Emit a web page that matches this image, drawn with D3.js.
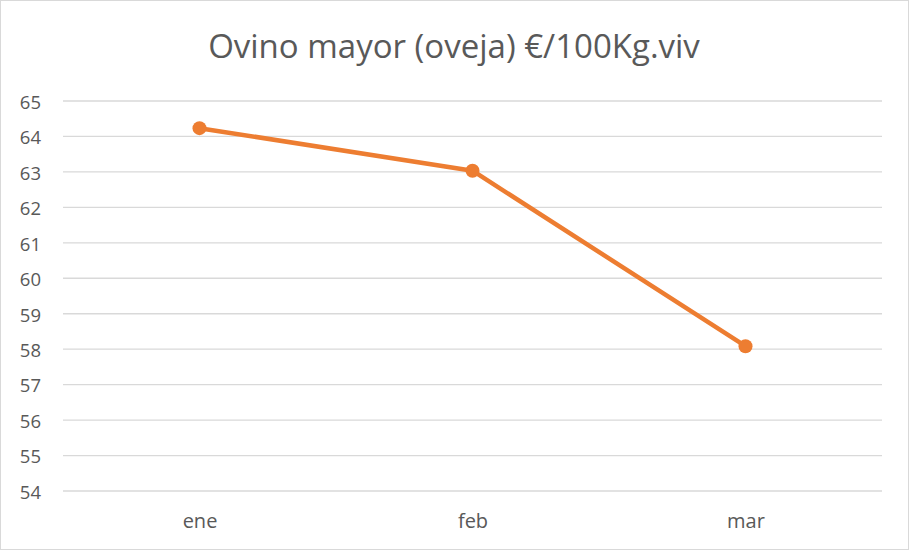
<!DOCTYPE html>
<html>
<head>
<meta charset="utf-8">
<script src="https://cdn.jsdelivr.net/npm/d3@7"></script>
<style>
  body { margin: 0; background: #fff; }
  svg { display: block; font-family: "Open Sans", "Noto Sans", sans-serif; }
</style>
</head>
<body>
<svg></svg>
<script>
// chart values
var months = ['ene', 'feb', 'mar'];
var prices = [64.22, 63.02, 58.07];
var yTicks = [54, 55, 56, 57, 58, 59, 60, 61, 62, 63, 64, 65];
var title = 'Ovino mayor (oveja) €/100Kg.viv';

var canvasWidth = 911,
  canvasHeight = 552,
  margin = { top: 100.5, right: 29, bottom: 61.5, left: 63 },
  width = canvasWidth - margin.left - margin.right,
  height = canvasHeight - margin.top - margin.bottom,
  grey = '#595959',
  orange = '#ED7D31';

var svg = d3.select('svg')
  .attr('width', canvasWidth)
  .attr('height', canvasHeight);

// outer frame
svg.append('rect')
  .attr('x', 0.5).attr('y', 0.5)
  .attr('width', canvasWidth - 3).attr('height', canvasHeight - 3)
  .attr('fill', '#fff')
  .attr('stroke', '#d9d9d9');

svg.append('text')
  .attr('x', 454)
  .attr('y', 58)
  .attr('text-anchor', 'middle')
  .style('font-size', '33px')
  .style('fill', grey)
  .text(title);

var g = svg.append('g')
  .attr('transform', 'translate(' + margin.left + ',' + margin.top + ')');

var xScale = d3.scalePoint()
  .domain(months)
  .range([0, width])
  .padding(0.5);

var yScale = d3.scaleLinear()
  .domain([54, 65])
  .range([height, 0]);

// gridlines + y labels
var yAxis = g.append('g')
  .call(d3.axisLeft(yScale).tickValues(yTicks).tickSize(-width).tickPadding(22));
yAxis.select('.domain').remove();
yAxis.selectAll('.tick line').attr('stroke', '#d9d9d9').attr('stroke-width', 1.3);
yAxis.selectAll('.tick text')
  .attr('dy', '0.42em')
  .style('font-size', '18.5px')
  .style('font-family', '"Open Sans", sans-serif')
  .attr('fill', grey);

// x labels
var xAxis = g.append('g')
  .attr('transform', 'translate(0,' + height + ')')
  .call(d3.axisBottom(xScale).tickSize(0).tickPadding(23));
xAxis.select('.domain').remove();
xAxis.selectAll('.tick text')
  .style('font-size', '20px')
  .style('font-family', '"Open Sans", sans-serif')
  .attr('fill', grey);

var line = d3.line()
  .x(function(d, i) { return xScale(months[i]); })
  .y(function(d) { return yScale(d); });

g.append('path')
  .datum(prices)
  .attr('d', line)
  .attr('fill', 'none')
  .attr('stroke', orange)
  .attr('stroke-width', 4.5)
  .attr('stroke-linejoin', 'round');

g.selectAll('circle.pt')
  .data(prices)
  .enter().append('circle')
  .attr('class', 'pt')
  .attr('cx', function(d, i) { return xScale(months[i]); })
  .attr('cy', function(d) { return yScale(d); })
  .attr('r', 7)
  .attr('fill', orange);
</script>
</body>
</html>
